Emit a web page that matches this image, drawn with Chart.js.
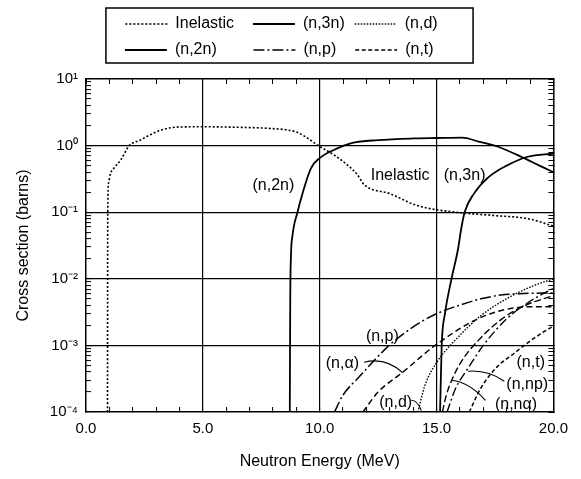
<!DOCTYPE html>
<html>
<head>
<meta charset="utf-8">
<title>Cross sections</title>
<script src="https://cdn.jsdelivr.net/npm/chart.js@4.4.0/dist/chart.umd.min.js"></script>
<style>
  html, body { margin: 0; padding: 0; background: #fff; }
  canvas { display: block; }
</style>
</head>
<body>
<canvas id="chartXs" width="581" height="479"></canvas>
<script>
// Energies (MeV) and cross sections (barns)
const inelasticE  = [0.92, 0.93, 0.97, 1.05, 1.2, 1.5, 1.85, 2.3, 3.0, 3.6, 4.0, 5.0, 6.0, 7.3, 8.0, 8.6, 9.0, 9.4, 9.8, 10.0, 10.7, 11.6, 11.9, 13.0, 14.2, 15.8, 17.5, 18.9, 20.0];
const inelasticXS = [1e-4, 0.1, 0.28, 0.38, 0.46, 0.62, 1.0, 1.2, 1.6, 1.85, 1.9, 1.92, 1.9, 1.85, 1.8, 1.72, 1.6, 1.35, 1.08, 0.97, 0.69, 0.37, 0.26, 0.19, 0.125, 0.1, 0.089, 0.08, 0.062];

const n2nE  = [8.72, 8.74, 8.77, 8.83, 9.05, 9.28, 9.63, 10.0, 10.6, 11.4, 12.5, 14.0, 15.0, 16.1, 16.8, 17.6, 18.7, 19.4, 20.0];
const n2nXS = [1e-4, 0.005, 0.022, 0.043, 0.1, 0.2, 0.46, 0.65, 0.86, 1.1, 1.21, 1.28, 1.3, 1.32, 1.15, 0.97, 0.66, 0.5, 0.4];

const n3nE  = [15.15, 15.22, 15.36, 15.64, 15.92, 16.05, 16.2, 16.6, 17.2, 18.0, 18.9, 20.0];
const n3nXS = [1e-4, 1e-3, 3e-3, 0.01, 0.028, 0.055, 0.1, 0.19, 0.33, 0.5, 0.68, 0.76];

const npE  = [10.63, 11.0, 11.7, 12.3, 12.97, 13.7, 14.37, 15.2, 16.06, 16.9, 17.75, 18.7, 19.5, 20.0];
const npXS = [1e-4, 1.8e-4, 3.4e-4, 5.8e-4, 1e-3, 1.6e-3, 2.3e-3, 3.2e-3, 4.1e-3, 5.0e-3, 5.7e-3, 6.0e-3, 6.1e-3, 6.1e-3];

const naE  = [11.85, 12.5, 13.53, 14.94, 16.34, 17.2, 18.03, 19.0, 20.0];
const naXS = [1e-4, 2e-4, 3.9e-4, 1e-3, 2.1e-3, 2.9e-3, 3.5e-3, 3.8e-3, 3.8e-3];

const ndE  = [14.2, 14.5, 15.0, 15.8, 16.9, 18.2, 19.2, 20.0];
const ndXS = [1e-4, 2.5e-4, 5.5e-4, 1.2e-3, 2.8e-3, 5.5e-3, 8e-3, 1e-2];

const ntE  = [16.4, 16.9, 17.6, 18.3, 18.75, 19.4, 20.0];
const ntXS = [1e-4, 2.3e-4, 4.8e-4, 7.5e-4, 1e-3, 1.45e-3, 1.95e-3];

const nnpE  = [15.45, 15.8, 16.34, 17.0, 18.0, 19.0, 20.0];
const nnpXS = [1e-4, 2.2e-4, 4.5e-4, 1e-3, 2.5e-3, 4.6e-3, 7.2e-3];

const nnaE  = [15.25, 15.4, 15.65, 16.1, 16.8, 17.8, 18.8, 20.0];
const nnaXS = [1e-4, 1.7e-4, 3e-4, 6e-4, 1.2e-3, 2.5e-3, 4e-3, 5.6e-3];

// Axis ticks
const xMajorTicks = [0, 5, 10, 15, 20];
const xGridLines = [5, 10, 15];
const yDecades = [1e-4, 1e-3, 1e-2, 1e-1, 1, 10];
const yDecadeLabels = ['10⁻⁴', '10⁻³', '10⁻²', '10⁻¹', '10⁰', '10¹'];
const yMinorSteps = [2, 3, 4, 5, 6, 7, 8, 9];

// Legend entries (first six datasets), padded so the columns line up
const legendText = ['Inelastic  ', '(n,3n)', '(n,d)', '(n,2n)      ', '(n,p)  ', '(n,t) '];

// Labels written on the curves, and their leader lines
const curveLabels = [
    { text: '(n,2n)',    e: 8.02,  xs: 0.25 },
    { text: 'Inelastic', e: 13.44, xs: 0.35 },
    { text: '(n,3n)',    e: 16.2,  xs: 0.35 },
    { text: '(n,p)',     e: 12.68, xs: 1.34e-3 },
    { text: '(n,α)',     e: 10.97, xs: 5.4e-4 },
    { text: '(n,d)',     e: 13.25, xs: 1.4e-4 },
    { text: '(n,t)',     e: 19.03, xs: 5.6e-4 },
    { text: '(n,np)',    e: 18.88, xs: 2.6e-4 },
    { text: '(n,nα)',    e: 18.4,  xs: 1.3e-4 }
];
const leaders = [
    [11.9, 5.6e-4, 12.83, 6.7e-4, 13.55, 3.9e-4],
    [13.92, 1.5e-4, 14.18, 1.5e-4, 14.35, 1.05e-4],
    [17.9, 2.9e-4, 17.2, 4.3e-4, 16.35, 4.1e-4],
    [17.09, 1.5e-4, 16.4, 2.8e-4, 15.65, 3e-4]
];

const yTicks = [];
yDecades.forEach((d, i) => {
    yTicks.push(d);
    if (i < yDecades.length - 1) yMinorSteps.forEach(m => yTicks.push(d * m));
});

function near(v, list) {
    return list.findIndex(d => Math.abs(v / d - 1) < 1e-6);
}

function pts(es, xs) {
    return es.map((e, i) => ({ x: e, y: xs[i] }));
}

function curve(label, es, xs, dash, width) {
    return {
        label: label,
        data: pts(es, xs),
        borderColor: '#000',
        backgroundColor: '#000',
        borderWidth: width,
        borderDash: dash,
        pointRadius: 0,
        fill: false,
        cubicInterpolationMode: 'monotone'
    };
}

Chart.defaults.font.family = '"Liberation Sans", Arial, sans-serif';
Chart.defaults.color = '#000';

const legendRowWidth = 380;
const legendGap = 11;

// Legend in two rows of three, with a gap under it
const legendRowsPlugin = {
    id: 'legendRows',
    afterInit(chart) {
        const legend = chart.legend;
        const update = legend.update.bind(legend);
        legend.update = (maxWidth, maxHeight, margins) => {
            update(Math.min(maxWidth, legendRowWidth), maxHeight, margins);
            legend.height += legendGap;
        };
    }
};

// Frame round the legend
const legendFramePlugin = {
    id: 'legendFrame',
    afterDraw(chart) {
        const boxes = chart.legend.legendHitBoxes;
        if (!boxes || !boxes.length) return;
        const left = Math.min(...boxes.map(b => b.left));
        const top = Math.min(...boxes.map(b => b.top));
        const right = Math.max(...boxes.map(b => b.left + b.width));
        const bottom = Math.max(...boxes.map(b => b.top + b.height));
        const ctx = chart.ctx;
        ctx.save();
        ctx.strokeStyle = '#000';
        ctx.lineWidth = 1.5;
        ctx.strokeRect(left - 19, top - 8, right - left + 19 + 35, bottom - top + 8 + 5);
        ctx.restore();
    }
};

// Curve names and leader lines
const curveLabelPlugin = {
    id: 'curveLabels',
    afterDatasetsDraw(chart) {
        const { ctx, scales: { x, y } } = chart;
        ctx.save();
        ctx.fillStyle = '#000';
        ctx.strokeStyle = '#000';
        ctx.lineWidth = 1.1;
        ctx.font = '16px "Liberation Sans", Arial, sans-serif';
        ctx.textAlign = 'center';
        ctx.textBaseline = 'middle';
        curveLabels.forEach(l => {
            ctx.fillText(l.text, x.getPixelForValue(l.e), y.getPixelForValue(l.xs));
        });
        leaders.forEach(p => {
            ctx.beginPath();
            ctx.moveTo(x.getPixelForValue(p[0]), y.getPixelForValue(p[1]));
            ctx.quadraticCurveTo(x.getPixelForValue(p[2]), y.getPixelForValue(p[3]),
                                 x.getPixelForValue(p[4]), y.getPixelForValue(p[5]));
            ctx.stroke();
        });
        ctx.restore();
    }
};

const border = { color: '#000', width: 1.5 };
const tickFont = { size: 15 };

new Chart(document.getElementById('chartXs'), {
    type: 'line',
    data: {
        datasets: [
            curve('Inelastic', inelasticE, inelasticXS, [2, 2], 1.6),
            curve('(n,3n)', n3nE, n3nXS, [], 1.8),
            curve('(n,d)', ndE, ndXS, [1.5, 1.5], 1.4),
            curve('(n,2n)', n2nE, n2nXS, [], 1.8),
            curve('(n,p)', npE, npXS, [11, 3, 2, 3], 1.5),
            curve('(n,t)', ntE, ntXS, [4, 2.5], 1.5),
            curve('(n,α)', naE, naXS, [6, 3.5], 1.5),
            curve('(n,np)', nnpE, nnpXS, [9, 3, 2, 3], 1.4),
            curve('(n,nα)', nnaE, nnaXS, [7, 3], 1.4)
        ]
    },
    options: {
        responsive: false,
        animation: false,
        layout: { padding: { top: 6, right: 18, bottom: 0, left: 0 } },
        scales: {
            x: {
                type: 'linear',
                position: 'bottom',
                min: 0,
                max: 20,
                ticks: {
                    stepSize: 1,
                    autoSkip: false,
                    maxRotation: 0,
                    padding: 13,
                    color: '#000',
                    font: tickFont,
                    callback: v => xMajorTicks.includes(v) ? v.toFixed(1) : ''
                },
                grid: {
                    color: c => (c.tick && xGridLines.includes(c.tick.value)) ? '#000' : 'rgba(0,0,0,0)',
                    lineWidth: 1.2,
                    tickColor: '#000',
                    tickLength: -5,
                    tickWidth: 1
                },
                border: border,
                title: {
                    display: true,
                    text: 'Neutron Energy (MeV)',
                    color: '#000',
                    font: { size: 16 },
                    padding: { top: 0, bottom: 8 }
                },
                afterFit: s => { s.height = 67; }
            },
            xTop: {
                type: 'linear',
                position: 'top',
                min: 0,
                max: 20,
                ticks: { stepSize: 1, autoSkip: false, display: false },
                grid: { drawOnChartArea: false, tickColor: '#000', tickLength: -5, tickWidth: 1 },
                border: border,
                afterFit: s => { s.height = 0; }
            },
            y: {
                type: 'logarithmic',
                position: 'left',
                min: 1e-4,
                max: 10,
                afterBuildTicks: s => { s.ticks = yTicks.map(v => ({ value: v })); },
                ticks: {
                    autoSkip: false,
                    padding: 13,
                    color: '#000',
                    font: tickFont,
                    callback: v => {
                        const i = near(v, yDecades);
                        return i >= 0 ? yDecadeLabels[i] : '';
                    }
                },
                grid: {
                    color: c => {
                        if (!c.tick) return 'rgba(0,0,0,0)';
                        const i = near(c.tick.value, yDecades);
                        return (i > 0 && i < yDecades.length - 1) ? '#000' : 'rgba(0,0,0,0)';
                    },
                    lineWidth: 1.2,
                    tickColor: '#000',
                    tickLength: -5,
                    tickWidth: 1
                },
                border: border,
                title: {
                    display: true,
                    text: 'Cross section (barns)',
                    color: '#000',
                    font: { size: 16 },
                    padding: { top: 14, bottom: 0 }
                },
                afterFit: s => { s.width = 86; }
            },
            yRight: {
                type: 'logarithmic',
                position: 'right',
                min: 1e-4,
                max: 10,
                afterBuildTicks: s => { s.ticks = yTicks.map(v => ({ value: v })); },
                ticks: { autoSkip: false, display: false },
                grid: { drawOnChartArea: false, tickColor: '#000', tickLength: -5, tickWidth: 1 },
                border: border,
                afterFit: s => { s.width = 3; }
            }
        },
        plugins: {
            legend: {
                position: 'top',
                labels: {
                    color: '#000',
                    font: { size: 16 },
                    padding: 10,
                    usePointStyle: true,
                    pointStyle: 'line',
                    pointStyleWidth: 42,
                    filter: item => item.datasetIndex < legendText.length,
                    generateLabels: chart => {
                        const items = Chart.defaults.plugins.legend.labels.generateLabels(chart);
                        items.forEach(it => {
                            const ds = chart.data.datasets[it.datasetIndex];
                            if (it.datasetIndex < legendText.length) it.text = legendText[it.datasetIndex];
                            it.lineDash = ds.borderDash;
                            it.lineWidth = ds.borderWidth;
                            it.strokeStyle = '#000';
                        });
                        return items;
                    }
                },
                onClick: () => {}
            },
            tooltip: { enabled: false }
        }
    },
    plugins: [legendRowsPlugin, legendFramePlugin, curveLabelPlugin]
});
</script>
</body>
</html>
